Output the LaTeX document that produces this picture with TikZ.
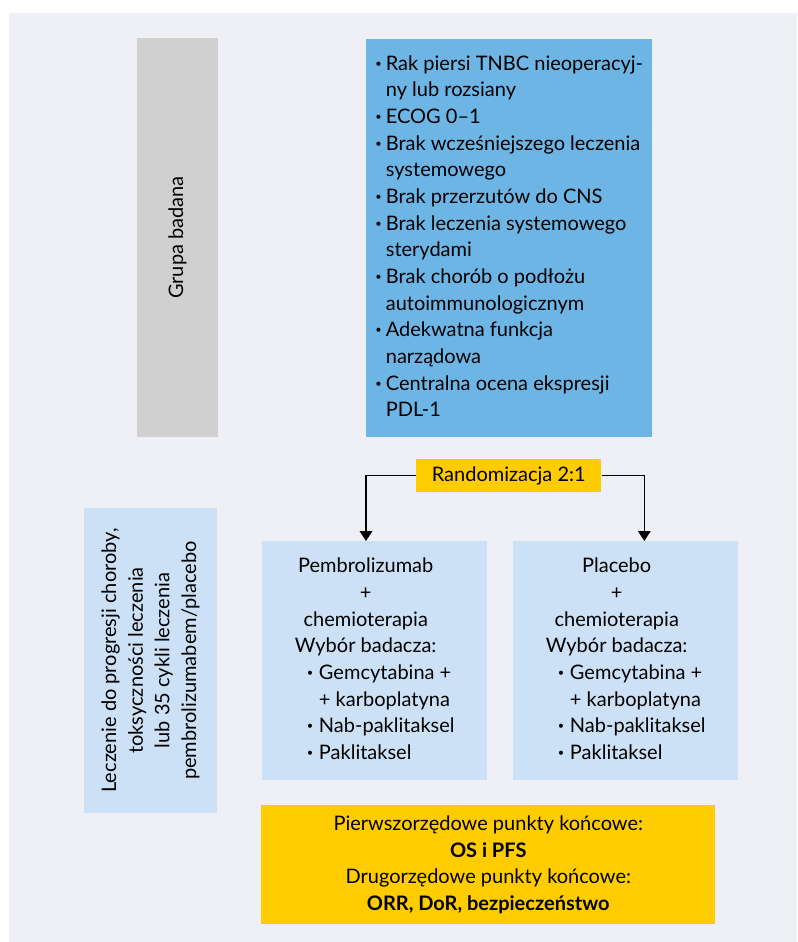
\documentclass[tikz,border=0pt]{standalone}
\usepackage{fontspec}
\setmainfont{Lato}
\usetikzlibrary{arrows.meta}
\definecolor{tlo}{RGB}{239,240,245}
\definecolor{szary}{RGB}{208,208,208}
\definecolor{niebieski}{RGB}{108,181,228}
\definecolor{jasny}{RGB}{204,225,245}
\definecolor{zolty}{RGB}{255,204,0}
\newcommand{\pkt}{\raisebox{.3ex}{\scalebox{.55}{\textbullet}}}
\newcommand{\pktb}{\makebox[9pt][l]{\pkt}}

\begin{document}
\begin{tikzpicture}[x=.75pt, y=-.75pt,
    every node/.style={font=\fontsize{15}{20}\selectfont, inner sep=0pt},
    box/.style={anchor=north west, align=center},
    arr/.style={-{Triangle[length=7.5pt,width=9.5pt]}, line width=1pt}]
    \useasboundingbox (0,0) rectangle (797,942);
    \fill [tlo] (9,13) rectangle (797,942);

    \node [fill=szary, rotate=90, minimum width=299.25pt, minimum height=60.75pt] (grupa) at (177.5,237.5) {Grupa badana};

    \node [box, fill=niebieski, minimum width=214.5pt, minimum height=298.5pt] (kryteria) at (366,39) {%
      \begin{tabular}{@{}l@{\hspace{3pt}}l@{}}
        \pkt & Rak piersi TNBC nieoperacyj-\\
             & ny lub rozsiany\\
        \pkt & ECOG 0–1\\
        \pkt & Brak wcześniejszego leczenia\\
             & systemowego\\
        \pkt & Brak przerzutów do CNS\\
        \pkt & Brak leczenia systemowego\\
             & sterydami\\
        \pkt & Brak chorób o podłożu\\
             & autoimmunologicznym\\
        \pkt & Adekwatna funkcja\\
             & narządowa\\
        \pkt & Centralna ocena ekspresji\\
             & PDL-1
      \end{tabular}};

    \node [box, fill=zolty, minimum width=138.75pt, minimum height=24.75pt] (rand) at (416,459) {Randomizacja 2:1};

    \node [box, fill=jasny, minimum width=168.75pt, minimum height=179.25pt] (ramie1) at (262,541) {%
      \begin{tabular}{@{}l@{}l@{}l@{}}
        \multicolumn{3}{@{}l@{}}{\begin{tabular}[b]{@{}c@{}}Pembrolizumab\\+\\chemioterapia\\Wybór badacza:\end{tabular}}\\
        \hspace*{9pt} & \pktb & Gemcytabina +\\
                      &       & + karboplatyna\\
                      & \pktb & Nab-paklitaksel\\
                      & \pktb & Paklitaksel
      \end{tabular}};
    \node [box, fill=jasny, minimum width=168.75pt, minimum height=179.25pt] (ramie2) at (513,541) {%
      \begin{tabular}{@{}l@{}l@{}l@{}}
        \multicolumn{3}{@{}l@{}}{\begin{tabular}[b]{@{}c@{}}Placebo\\+\\chemioterapia\\Wybór badacza:\end{tabular}}\\
        \hspace*{9pt} & \pktb & Gemcytabina +\\
                      &       & + karboplatyna\\
                      & \pktb & Nab-paklitaksel\\
                      & \pktb & Paklitaksel
      \end{tabular}};

    \node [fill=jasny, rotate=90, align=center, minimum width=228.75pt, minimum height=99.75pt] (leczenie) at (150.5,660.5) {Leczenie do progresji choroby,\\toksyczności leczenia\\lub 35 cykli leczenia\\pembrolizumabem/placebo};

    \node [box, fill=zolty, minimum width=340.5pt, minimum height=89.25pt] (punkty) at (261,805) {Pierwszorzędowe punkty końcowe:\\\textbf{OS i PFS}\\Drugorzędowe punkty końcowe:\\\textbf{ORR, DoR, bezpieczeństwo}};

    \draw [arr] (rand.west) -| (ramie1.north -| kryteria.west);
    \draw [arr] (rand.east) -| ([xshift=13.9pt]ramie2.north);
\end{tikzpicture}
\end{document}
